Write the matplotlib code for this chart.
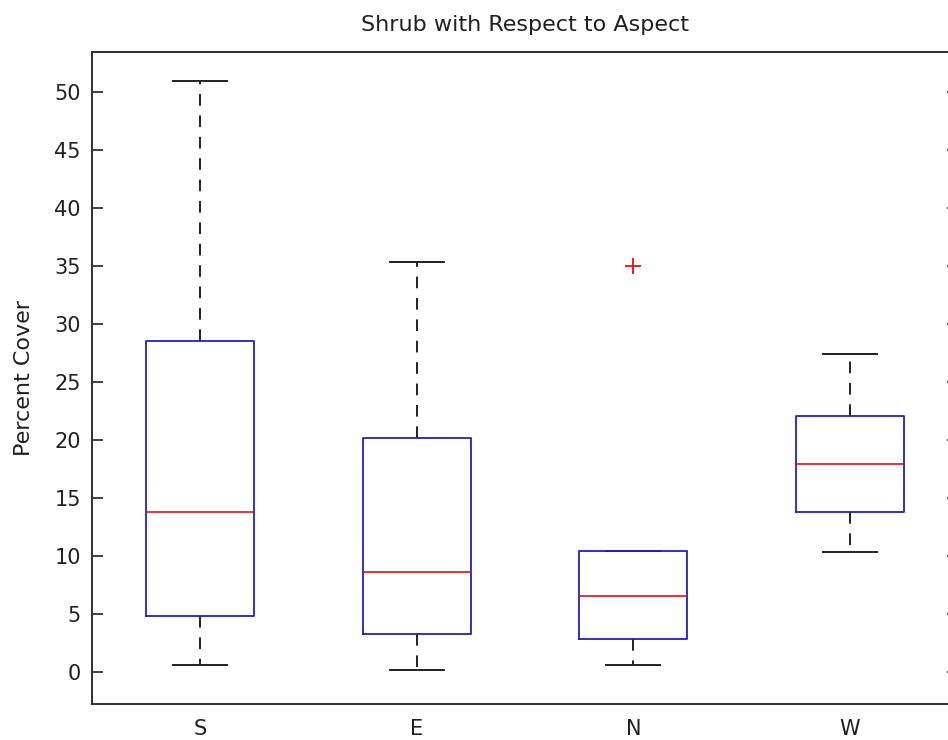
import matplotlib
matplotlib.use("Agg")
import matplotlib.pyplot as plt

categories = ["S", "E", "N", "W"]
whisker_low = [0.6, 0.1, 0.6, 10.3]
q1 = [4.8, 3.25, 2.8, 13.75]
median = [13.75, 8.55, 6.5, 17.9]
q3 = [28.5, 20.1, 10.4, 22.0]
whisker_high = [50.9, 35.3, 10.4, 27.4]
outliers = [[], [], [35.0], []]
title = "Shrub with Respect to Aspect"
ylabel = "Percent Cover"
yticks = [0, 5, 10, 15, 20, 25, 30, 35, 40, 45, 50]

plt.rcParams['font.family'] = ['DejaVu Sans']

fig = plt.figure(figsize=(9.48, 7.40), dpi=100)
ax = fig.add_axes([92/948, 36/740, 866/948, 652/740])

stats = []
for i, c in enumerate(categories):
    stats.append(dict(label=c, whislo=whisker_low[i], q1=q1[i], med=median[i],
                      q3=q3[i], whishi=whisker_high[i], fliers=outliers[i]))

positions = list(range(1, len(categories) + 1))
ax.bxp(stats, positions=positions, widths=0.5, showfliers=True,
       boxprops=dict(color='#2020c0', linewidth=1.3, zorder=2.2),
       medianprops=dict(color='#e01010', linewidth=1.2, zorder=2.3),
       whiskerprops=dict(color='#202020', linewidth=1.4, linestyle=(0, (6, 5)), zorder=1.9),
       capprops=dict(color='#202020', linewidth=1.4, zorder=1.9),
       capwidths=0.25,
       flierprops=dict(marker='+', markeredgecolor='#e01010', markersize=11,
                       markeredgewidth=1.3, linestyle='none'))

ax.set_xlim(0.5, 4.5)
ax.set_ylim(-2.8, 53.42)
ax.set_yticks(yticks)
ax.set_xticks(positions)
ax.set_xticklabels(categories)
ax.tick_params(axis='y', direction='in', length=8, width=1.2, pad=8,
               labelsize=15, right=True, colors='#202020')
ax.tick_params(axis='x', length=0, pad=11, labelsize=15, colors='#202020')
for s in ax.spines.values():
    s.set_linewidth(1.4)
    s.set_color('#303030')
ax.set_title(title, fontsize=16, pad=15, color='#202020')
ax.set_ylabel(ylabel, fontsize=16, labelpad=15, color='#202020')

fig.savefig("out.png", dpi=100)
